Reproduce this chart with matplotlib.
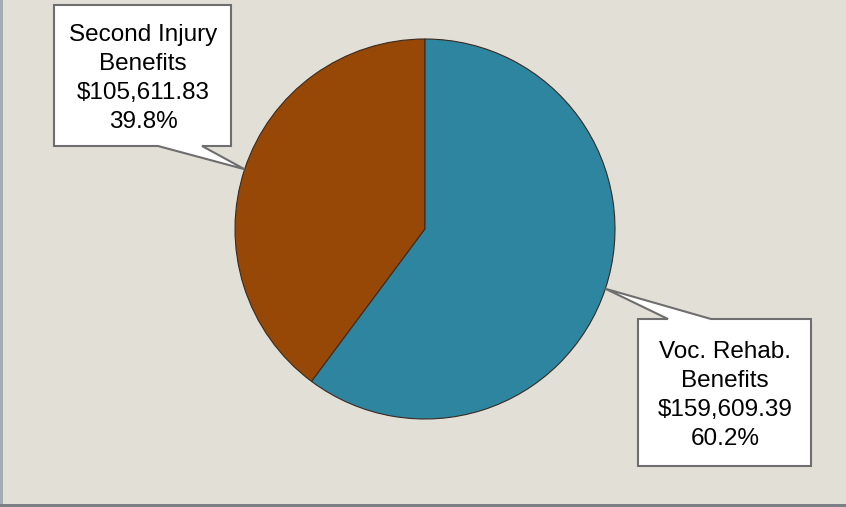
import numpy as np
import matplotlib
matplotlib.use("Agg")
import matplotlib.pyplot as plt
from matplotlib.patches import Polygon, Rectangle

labels = ["Second Injury\nBenefits", "Voc. Rehab.\nBenefits"]
amounts = [105611.83, 159609.39]
colors = ["#974806", "#2E85A0"]

bg = "#E2DFD7"
W, H = 846, 507

fig = plt.figure(figsize=(8.46, 5.07), dpi=100, facecolor=bg)
ax = fig.add_axes([0, 0, 1, 1])
ax.set_xlim(0, W)
ax.set_ylim(0, H)
ax.set_aspect("equal")
ax.axis("off")

# pie in pixel-like coordinates
cx, cy, r = 425, 278, 190
wedges, _ = ax.pie(amounts, colors=colors, startangle=90, counterclock=True,
                   center=(cx, cy), radius=r, frame=True,
                   wedgeprops=dict(edgecolor="#3a2a20", linewidth=0.8))
ax.set_xlim(0, W)
ax.set_ylim(0, H)
ax.axis("off")

total = sum(amounts)

# callout boxes: (left, right, bottom, top, pointer base x0, x1, pointer on top?)
boxes = [
    (54, 231, 361, 502, 158, 202, False),
    (638, 811, 41, 188, 668, 711, True),
]

for w, amt, lab, (x0, x1, y0, y1, b0, b1, ptr_top) in zip(wedges, amounts, labels, boxes):
    mid = np.deg2rad((w.theta1 + w.theta2) / 2)
    tip = (cx + r * np.cos(mid), cy + r * np.sin(mid))
    if ptr_top:
        pts = [(x0, y1), (b0, y1), tip, (b1, y1), (x1, y1), (x1, y0), (x0, y0)]
    else:
        pts = [(x0, y1), (x1, y1), (x1, y0), (b1, y0), tip, (b0, y0), (x0, y0)]
    ax.add_patch(Polygon(pts, closed=True, facecolor="white",
                         edgecolor="#6e6e6e", linewidth=1.5, zorder=5))
    txt = f"{lab}\n${amt:,.2f}\n{amt / total * 100:.1f}%"
    ax.text((x0 + x1) / 2 + 0.5, (y0 + y1) / 2 - 3, txt, ha="center", va="center",
            fontsize=17.5, family="Liberation Sans", color="black",
            linespacing=1.42, zorder=6)

# frame edges
fig.patches.append(Rectangle((0, 0), 3 / W, 1, transform=fig.transFigure,
                             facecolor="#A3ADB6", edgecolor="none"))
fig.patches.append(Rectangle((0, 0), 1, 3 / H, transform=fig.transFigure,
                             facecolor="#7B8086", edgecolor="none"))

fig.savefig("out.png", dpi=100, facecolor=bg)
